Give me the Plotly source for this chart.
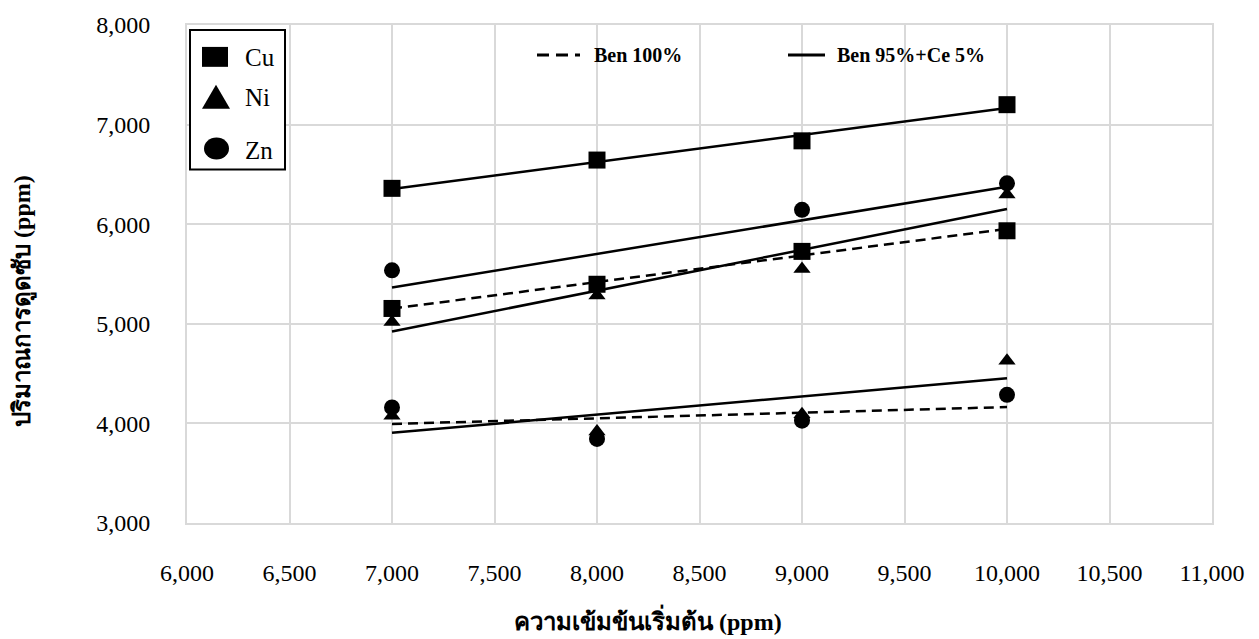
import numpy as np
import plotly.graph_objects as go

# Initial concentration (ppm)
conc = [7000, 8000, 9000, 10000]

# Adsorbed amount (ppm) per metal and adsorbent
cu_ben95 = [6360, 6644, 6837, 7200]
cu_ben100 = [5154, 5397, 5727, 5934]
ni_ben95 = [5019, 5285, 5549, 6297]
ni_ben100 = [4077, 3919, 4092, 4629]
zn_ben95 = [5537, 5390, 6144, 6410]
zn_ben100 = [4160, 3844, 4027, 4287]

x_ticks = [6000, 6500, 7000, 7500, 8000, 8500, 9000, 9500, 10000, 10500, 11000]
y_ticks = [3000, 4000, 5000, 6000, 7000, 8000]

FONT = "Liberation Serif"
W, H = 1259, 639
L, R, T, B = 187, 47, 23, 116
PW, PH = W - L - R, H - T - B


def px(v):
    return (v - L) / PW


def py(v):
    return (H - B - v) / PH


series = [
    ("Cu", "square", 17, cu_ben95, "solid"),
    ("Cu", "square", 17, cu_ben100, "10px,6px"),
    ("Ni", "triangle-up", 15, ni_ben95, "solid"),
    ("Ni", "triangle-up", 15, ni_ben100, "solid"),
    ("Zn", "circle", 16, zn_ben95, "solid"),
    ("Zn", "circle", 16, zn_ben100, "10px,6px"),
]

fig = go.Figure()

# linear trend lines
for name, sym, size, vals, dash in series:
    k, b = np.polyfit(conc, vals, 1)
    xs = [conc[0], conc[-1]]
    fig.add_trace(go.Scatter(
        x=xs, y=[k * v + b for v in xs], mode="lines",
        line=dict(color="black", width=2.5, dash=dash),
        showlegend=False, hoverinfo="skip"))

# measured points
for name, sym, size, vals, dash in series:
    fig.add_trace(go.Scatter(
        x=conc, y=vals, mode="markers", name=name,
        marker=dict(symbol=sym, size=size, color="black", line=dict(width=0)),
        showlegend=False, cliponaxis=False))

shapes = []
annotations = []

# metal legend box
shapes.append(dict(type="rect", xref="paper", yref="paper",
                   x0=px(190), x1=px(285), y0=py(168), y1=py(28),
                   line=dict(color="black", width=2), fillcolor="white", layer="above"))
shapes.append(dict(type="rect", xref="paper", yref="paper",
                   x0=px(202), x1=px(228), y0=py(65), y1=py(45),
                   line=dict(width=0), fillcolor="black", layer="above"))
shapes.append(dict(type="path", xref="paper", yref="paper",
                   path=f"M {px(202)},{py(107)} L {px(230)},{py(107)} L {px(216)},{py(83)} Z",
                   line=dict(width=0), fillcolor="black", layer="above"))
shapes.append(dict(type="circle", xref="paper", yref="paper",
                   x0=px(204), x1=px(229), y0=py(158), y1=py(136),
                   line=dict(width=0), fillcolor="black", layer="above"))
for label, yc in [("Cu", 56), ("Ni", 96), ("Zn", 149)]:
    annotations.append(dict(text=label, xref="paper", yref="paper",
                            x=px(243), y=py(yc), xanchor="left", yanchor="middle",
                            showarrow=False, font=dict(family=FONT, size=25, color="black")))

# adsorbent legend
shapes.append(dict(type="line", xref="paper", yref="paper",
                   x0=px(537), x1=px(580), y0=py(53), y1=py(53),
                   line=dict(color="black", width=3, dash="12px,7px"), layer="above"))
shapes.append(dict(type="line", xref="paper", yref="paper",
                   x0=px(788), x1=px(825), y0=py(53), y1=py(53),
                   line=dict(color="black", width=3), layer="above"))
for label, xl in [("Ben 100%", 592), ("Ben 95%+Ce 5%", 835)]:
    annotations.append(dict(text=f"<b>{label}</b>", xref="paper", yref="paper",
                            x=px(xl), y=py(53), xanchor="left", yanchor="middle",
                            showarrow=False, font=dict(family=FONT, size=20, color="black")))

# axis titles
annotations.append(dict(text="<b>ความเข้มข้นเริ่มต้น (ppm)</b>", xref="paper", yref="paper",
                        x=px(648), y=py(620), xanchor="center", yanchor="middle",
                        showarrow=False, font=dict(family=FONT, size=24, color="black")))
annotations.append(dict(text="<b>ปริมาณการดูดซับ (ppm)</b>", xref="paper", yref="paper",
                        x=px(23), y=py(300), xanchor="center", yanchor="middle",
                        textangle=-90, showarrow=False,
                        font=dict(family=FONT, size=24, color="black")))

axis_common = dict(
    showgrid=True, gridcolor="#d9d9d9", gridwidth=2,
    showline=True, linecolor="#d9d9d9", linewidth=2, mirror=True,
    zeroline=False, ticks="",
    tickfont=dict(family=FONT, size=24, color="black"),
    tickformat=",d",
)

fig.update_layout(
    width=W, height=H,
    margin=dict(l=L, r=R, t=T, b=B, pad=0),
    paper_bgcolor="white", plot_bgcolor="white",
    font=dict(family=FONT),
    xaxis=dict(range=[6000, 11000], tickvals=x_ticks, ticklabelstandoff=27, **axis_common),
    yaxis=dict(range=[3000, 8000], tickvals=y_ticks, ticklabelstandoff=30, **axis_common),
    shapes=shapes, annotations=annotations,
    showlegend=False,
)

fig.write_html("out.html")
